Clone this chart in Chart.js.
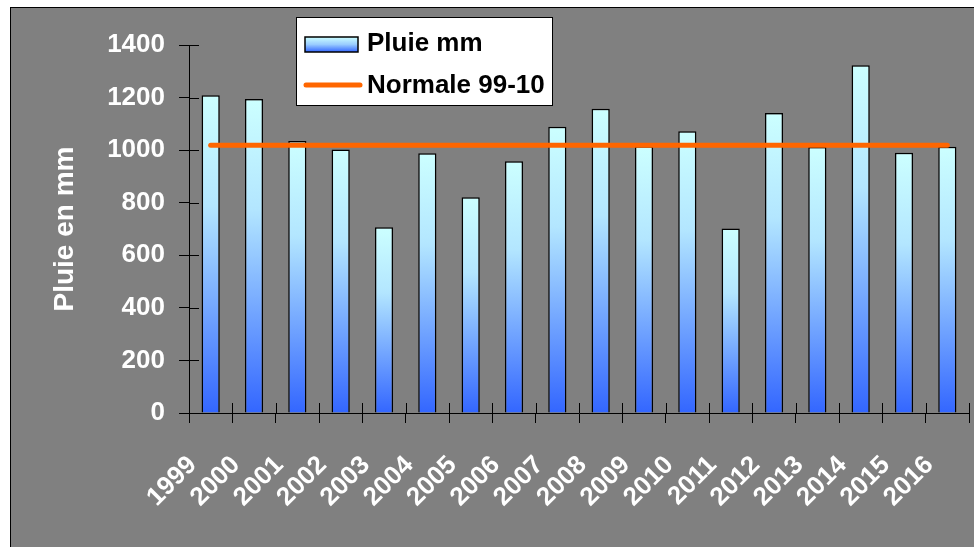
<!DOCTYPE html>
<html lang="fr">
<head>
    <meta charset="UTF-8">
    <title>Pluie mm</title>
    <script src="https://cdn.jsdelivr.net/npm/chart.js"></script>
    <style>
        body {
            margin: 0;
            padding: 0;
            background-color: #ffffff;
            overflow: hidden;
        }
        /* grey chart frame, left/top border visible only */
        #frame {
            position: absolute;
            left: 10px;
            top: 7px;
            width: 980px;
            height: 560px;
            background-color: #808080;
            border-left: 1.5px solid #000;
            border-top: 1.5px solid #000;
        }
        #wrap {
            position: absolute;
            left: 0;
            top: 0;
            width: 974px;
            height: 547px;
        }
    </style>
</head>
<body>
    <div id="frame"></div>
    <div id="wrap"><canvas id="rainChart" width="974" height="547"></canvas></div>

    <script>
        // data
        const years = ['1999', '2000', '2001', '2002', '2003', '2004', '2005', '2006', '2007',
                       '2008', '2009', '2010', '2011', '2012', '2013', '2014', '2015', '2016'];
        const pluie = [1209, 1195, 1035, 1002, 707, 988, 821, 958, 1089,
                       1157, 1015, 1072, 702, 1141, 1012, 1323, 990, 1013];
        const normale = [1019, 1019, 1019, 1019, 1019, 1019, 1019, 1019, 1019,
                         1019, 1019, 1019, 1019, 1019, 1019, 1019, 1019, 1019];
        const yTicks = [0, 200, 400, 600, 800, 1000, 1200, 1400];

        const FONT = "'Liberation Sans', Arial, sans-serif";

        // vertical gradient for each bar, cyan at top to blue at the base
        function barGradient(context) {
            const chart = context.chart;
            if (!chart.chartArea || context.parsed === undefined) return '#80b3ff';
            const yScale = chart.scales.y;
            const top = yScale.getPixelForValue(context.parsed.y);
            const bottom = yScale.getPixelForValue(0);
            const g = chart.ctx.createLinearGradient(0, top, 0, bottom);
            g.addColorStop(0, '#ccffff');
            g.addColorStop(0.35, '#b3e6ff');
            g.addColorStop(1, '#3366ff');
            return g;
        }

        // tick marks crossing the axes (Chart.js only draws the outer half)
        const crossTicks = {
            id: 'crossTicks',
            afterDraw(chart) {
                const ctx = chart.ctx;
                const x = chart.scales.x, y = chart.scales.y;
                ctx.save();
                ctx.strokeStyle = '#000';
                ctx.lineWidth = 1;
                ctx.beginPath();
                y.ticks.forEach((t, i) => {
                    const py = Math.round(y.getPixelForTick(i)) + 0.5;
                    ctx.moveTo(y.right, py);
                    ctx.lineTo(y.right + 10, py);
                });
                for (let i = 0; i <= years.length; i++) {
                    const px = Math.round(x.left + i * (x.right - x.left) / years.length) + 0.5;
                    ctx.moveTo(px, x.top);
                    ctx.lineTo(px, x.top - 10);
                }
                ctx.stroke();
                ctx.restore();
            }
        };

        // boxed legend in the upper part of the plot
        const boxLegend = {
            id: 'boxLegend',
            afterDraw(chart) {
                const ctx = chart.ctx;
                const ds = chart.data.datasets;
                ctx.save();
                ctx.fillStyle = '#ffffff';
                ctx.fillRect(296, 17, 256, 88);
                ctx.strokeStyle = '#000';
                ctx.lineWidth = 1;
                ctx.strokeRect(296.5, 17.5, 256, 88);

                // bar swatch
                const g = ctx.createLinearGradient(0, 37, 0, 52);
                g.addColorStop(0, '#ccffff');
                g.addColorStop(0.5, '#99ccff');
                g.addColorStop(1, '#3366ff');
                ctx.fillStyle = g;
                ctx.fillRect(305, 37, 53, 15);
                ctx.lineWidth = 1.5;
                ctx.strokeRect(305, 37, 53, 15);

                // line swatch
                ctx.strokeStyle = '#ff6600';
                ctx.lineWidth = 5;
                ctx.lineCap = 'round';
                ctx.beginPath();
                ctx.moveTo(306, 85);
                ctx.lineTo(360, 85);
                ctx.stroke();

                ctx.fillStyle = '#000';
                ctx.font = 'bold 26px ' + FONT;
                ctx.textBaseline = 'middle';
                ctx.textAlign = 'left';
                ctx.fillText(ds[1].label, 367, 44);
                ctx.fillText(ds[0].label, 367, 86);
                ctx.restore();
            }
        };

        const ctx = document.getElementById('rainChart').getContext('2d');
        const rainChart = new Chart(ctx, {
            type: 'bar',
            data: {
                labels: years,
                datasets: [
                    {
                        type: 'line',
                        label: 'Normale 99-10',
                        data: normale,
                        borderColor: '#ff6600',
                        borderWidth: 5,
                        borderCapStyle: 'round',
                        pointRadius: 0,
                        fill: false,
                        tension: 0,
                        order: 0
                    },
                    {
                        label: 'Pluie mm',
                        data: pluie,
                        backgroundColor: barGradient,
                        borderColor: '#000000',
                        borderWidth: 1.5,
                        categoryPercentage: 1,
                        barPercentage: 0.42,
                        order: 1
                    }
                ]
            },
            options: {
                responsive: false,
                animation: false,
                layout: {
                    padding: { top: 45, right: 5, bottom: 0, left: 0 }
                },
                plugins: {
                    legend: { display: false },
                    tooltip: { enabled: false }
                },
                scales: {
                    x: {
                        offset: true,
                        grid: {
                            offset: true,
                            drawOnChartArea: false,
                            color: '#000',
                            tickLength: 10
                        },
                        border: { color: '#000', width: 1 },
                        ticks: {
                            color: '#ffffff',
                            font: { family: FONT, size: 26, weight: 'bold' },
                            minRotation: 45,
                            maxRotation: 45,
                            autoSkip: false,
                            padding: 27,
                            labelOffset: -18
                        },
                        afterFit(scale) {
                            scale.height = 134;
                            scale.paddingLeft = 0;
                            scale.paddingRight = 0;
                        }
                    },
                    y: {
                        min: 0,
                        max: 1400,
                        afterBuildTicks(scale) {
                            scale.ticks = yTicks.map(v => ({ value: v }));
                        },
                        grid: {
                            drawOnChartArea: false,
                            color: '#000',
                            tickLength: 10
                        },
                        border: { color: '#000', width: 1 },
                        ticks: {
                            color: '#ffffff',
                            font: { family: FONT, size: 26, weight: 'bold' },
                            padding: 14,
                            callback: v => String(v)
                        },
                        title: {
                            display: true,
                            text: 'Pluie en mm',
                            color: '#ffffff',
                            font: { family: FONT, size: 28, weight: 'bold' },
                            padding: { top: 48, bottom: 0 }
                        },
                        afterFit(scale) {
                            scale.width = 189;
                            scale.paddingTop = 0;
                            scale.paddingBottom = 0;
                        }
                    }
                }
            },
            plugins: [crossTicks, boxLegend]
        });
    </script>
</body>
</html>
